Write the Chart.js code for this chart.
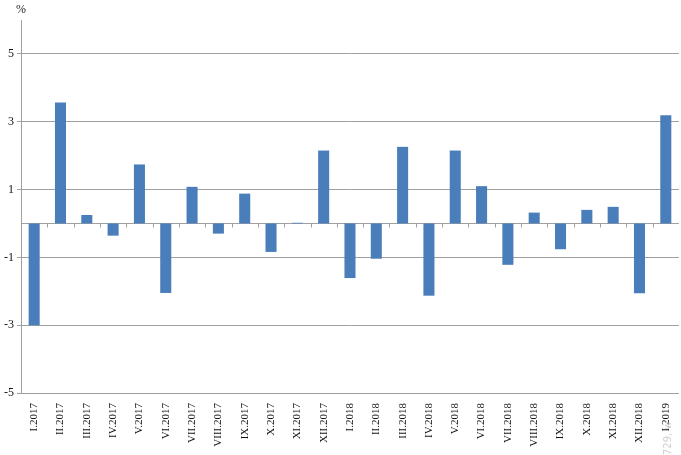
<!DOCTYPE html>
<html>
<head>
<meta charset="utf-8">
<script src="https://cdn.jsdelivr.net/npm/chart.js@4/dist/chart.umd.min.js"></script>
<style>
  html, body { margin: 0; padding: 0; background: #fff; }
  #wrap { width: 681px; height: 455px; position: relative; }
</style>
</head>
<body>
<div id="wrap"><canvas id="chart"></canvas></div>
<script>
// monthly change, %
const months = [
  'I.2017', 'II.2017', 'III.2017', 'IV.2017', 'V.2017', 'VI.2017', 'VII.2017', 'VIII.2017',
  'IX.2017', 'X.2017', 'XI.2017', 'XII.2017',
  'I.2018', 'II.2018', 'III.2018', 'IV.2018', 'V.2018', 'VI.2018', 'VII.2018', 'VIII.2018',
  'IX.2018', 'X.2018', 'XI.2018', 'XII.2018',
  'I.2019'
];
const changes = [
  -3.0, 3.57, 0.25, -0.36, 1.74, -2.05, 1.08, -0.3,
  0.88, -0.84, 0.02, 2.15,
  -1.61, -1.04, 2.26, -2.13, 2.15, 1.1, -1.22, 0.32,
  -0.76, 0.4, 0.49, -2.06,
  3.19
];
const yTicks = [-5, -3, -1, 1, 3, 5];

const GRID = '#a0a0a0';
const serif = '"Liberation Serif", "Times New Roman", serif';

// zero line with small category tick marks, plus unit label and faint watermark
const extras = {
  id: 'extras',
  beforeDatasetsDraw(chart) {
    const { ctx, chartArea, scales: { x, y } } = chart;
    const y0 = Math.round(y.getPixelForValue(0)) + 0.5;
    const half = x.width / months.length / 2;
    ctx.save();
    ctx.strokeStyle = GRID;
    ctx.lineWidth = 1;
    ctx.beginPath();
    ctx.moveTo(chartArea.left, y0);
    ctx.lineTo(chartArea.right, y0);
    for (let i = 1; i < months.length; i++) {
      const px = Math.round(x.getPixelForValue(i) - half) + 0.5;
      ctx.moveTo(px, y0);
      ctx.lineTo(px, y0 + 4);
    }
    ctx.stroke();
    ctx.restore();
  },
  afterDraw(chart) {
    const { ctx } = chart;
    ctx.save();
    ctx.fillStyle = '#222';
    ctx.font = '12px ' + serif;
    ctx.textAlign = 'center';
    ctx.textBaseline = 'middle';
    ctx.fillText('%', 21, 10);
    ctx.translate(668, 455);
    ctx.rotate(-Math.PI / 2);
    ctx.fillStyle = '#d0d0d0';
    ctx.font = '10px "DejaVu Sans", sans-serif';
    ctx.textAlign = 'left';
    ctx.fillText('729, w', 0, 0);
    ctx.restore();
  }
};

new Chart(document.getElementById('chart'), {
  type: 'bar',
  data: {
    labels: months,
    datasets: [{
      data: changes,
      backgroundColor: '#4a7ebb',
      borderWidth: 0,
      categoryPercentage: 1,
      barPercentage: 0.42
    }]
  },
  options: {
    responsive: true,
    maintainAspectRatio: false,
    animation: false,
    layout: { padding: { top: 20, right: 0, left: 0, bottom: 0 } },
    plugins: { legend: { display: false }, tooltip: { enabled: false } },
    scales: {
      x: {
        grid: { display: false },
        border: { display: true, color: GRID, width: 1 },
        ticks: {
          color: '#111',
          font: { family: serif, size: 11 },
          minRotation: 90,
          maxRotation: 90,
          autoSkip: false,
          padding: 2
        },
        afterFit: (s) => { s.height = 62; }
      },
      y: {
        min: -5,
        max: 6,
        afterBuildTicks: (s) => { s.ticks = yTicks.map(v => ({ value: v })); },
        grid: { color: GRID, lineWidth: 1, tickLength: 4 },
        border: { display: true, color: GRID, width: 1 },
        ticks: {
          color: '#111',
          font: { family: serif, size: 12 },
          padding: 3
        },
        afterFit: (s) => { s.width = 21; }
      }
    }
  },
  plugins: [extras]
});
</script>
</body>
</html>
